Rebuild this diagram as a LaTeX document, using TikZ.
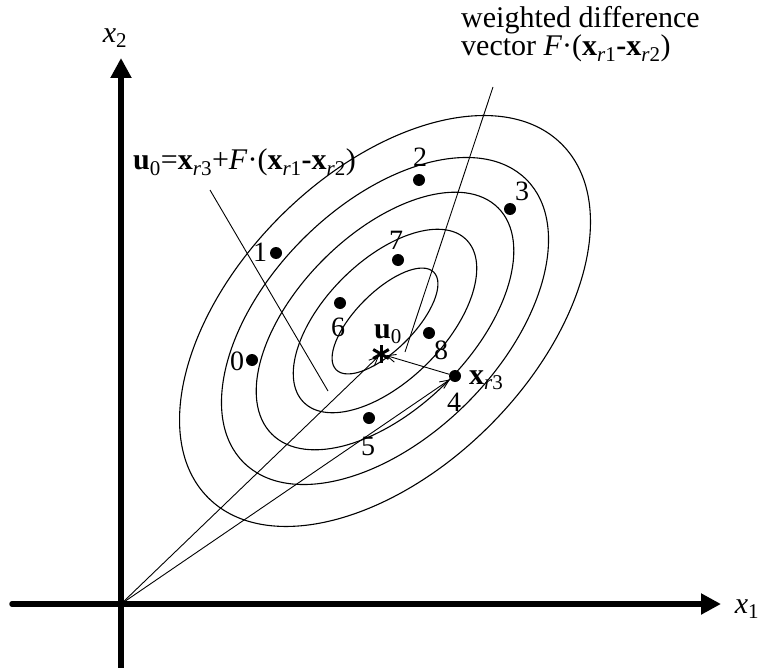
\documentclass[tikz,border=0pt]{standalone}
\usepackage{fontspec}
\setmainfont{Liberation Serif}
\usetikzlibrary{arrows.meta}
\newcommand{\myu}{\textbf{u}}
\newcommand{\myx}{\textbf{x}}
\begin{document}
\begin{tikzpicture}[x=1pt,y=-1pt,
  every node/.style={font=\fontsize{30}{25}\selectfont, inner sep=0pt},
  digit/.style={font=\fontsize{28}{25}\selectfont},
  axis/.style={line width=5.5pt, -{Triangle[length=20pt,width=20pt]}},
  ell/.style={line width=1.1pt},
  vec/.style={line width=0.9pt, -{Straight Barb[length=9pt,width=8pt]}},
  leader/.style={line width=0.9pt},
  dot/.style={circle, fill=black, minimum size=12pt, inner sep=0pt},
  star/.style={line width=3pt}
]
\useasboundingbox (0,0) rectangle (767,668);
% axes
\coordinate (vb) at (121,668);
\coordinate (vt) at (121,58);
\coordinate (hl) at (12,604);
\coordinate (hr) at (721,604);
\draw[axis] (vb) -- (vt);
\draw[axis, line cap=round] (hl) -- (hr);
\node (x2l) at (115,38) {\textit{x}\textsubscript{2}};
\node (x1l) at (747,609) {\textit{x}\textsubscript{1}};
% ellipses
\coordinate (c) at (385,321);
\foreach \a/\b in {69/29,115/60,160/87,200/116,250/148}
  \draw[ell, rotate around={45:(c)}] (c) ellipse [x radius=\a pt, y radius=\b pt];
% points
\node[dot] (p0) at (252,360) {};
\node[dot] (p1) at (276,253) {};
\node[dot] (p2) at (419,180) {};
\node[dot] (p3) at (510,209) {};
\node[dot] (p4) at (455,376) {};
\node[dot] (p5) at (369,418) {};
\node[dot] (p6) at (340,303) {};
\node[dot] (p7) at (398,260) {};
\node[dot] (p8) at (429,333) {};
\node[digit] (l0) at (237,361) {0};
\node[digit] (l1) at (260,252) {1};
\node[digit] (l2) at (420,157) {2};
\node[digit] (l3) at (522,191) {3};
\node[digit] (l4) at (454,402) {4};
\node[digit] (l5) at (368,446) {5};
\node[digit] (l6) at (338,327) {6};
\node[digit] (l7) at (396,240) {7};
\node[digit] (l8) at (441,350) {8};
\node[anchor=west] (lx) at (469,380) {\myx\textsubscript{\textit{r}3}};
% u0
\coordinate (u0) at (381,354);
\foreach \ang in {90,30,150}
  \draw[star] (u0) ++(\ang:9) -- ++(\ang+180:18);
\node (lu) at (388,334) {\myu\textsubscript{0}};
% vectors
\coordinate (O) at (121,604);
\draw[vec, shorten >=3pt] (O) -- (u0);
\draw[vec] (O) -- (p4);
\draw[vec, shorten >=5pt] (p4) -- (u0);
% leaders and annotations
\node[anchor=base west] (form) at (133,170) {\myu\textsubscript{0}=\myx\textsubscript{\textit{r}3}+\textit{F}·(\myx\textsubscript{\textit{r}1}\textbf{-}\myx\textsubscript{\textit{r}2})};
\coordinate (fa) at (210,190);
\coordinate (fb) at (328,391);
\draw[leader] (fa) -- (fb);
\node[anchor=base west] (wd1) at (461,28) {weighted difference};
\node[anchor=base west] (wd2) at (461,56) {vector \textit{F}·(\myx\textsubscript{\textit{r}1}\textbf{-}\myx\textsubscript{\textit{r}2})};
\coordinate (wa) at (493,87);
\coordinate (wb) at (405,352);
\draw[leader] (wa) -- (wb);
\end{tikzpicture}
\end{document}
